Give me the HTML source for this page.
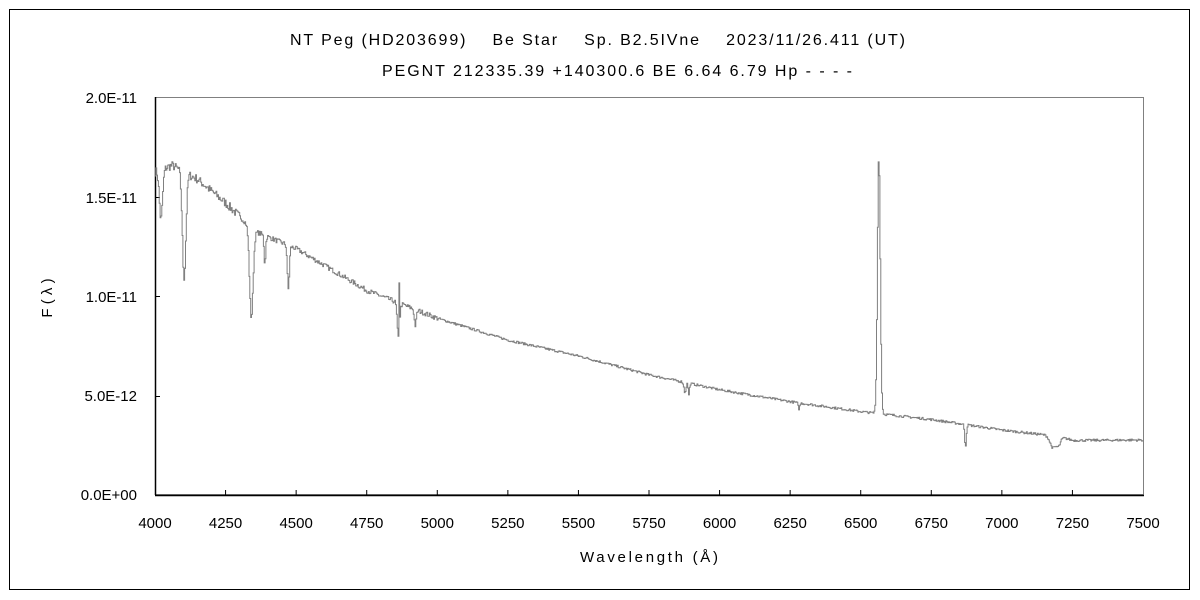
<!DOCTYPE html>
<html><head><meta charset="utf-8"><style>
html,body{margin:0;padding:0;background:#fff;}
svg{display:block;font-family:"Liberation Sans","Noto Sans CJK JP",sans-serif;}
</style></head><body>
<svg id="s" width="1200" height="600" xmlns="http://www.w3.org/2000/svg">
<rect x="0" y="0" width="1200" height="600" fill="#fff"/>
<rect x="9.5" y="9.5" width="1180" height="580" fill="none" stroke="#000" stroke-width="1"/>
<text x="290" y="45" font-size="16" textLength="615" lengthAdjust="spacing" fill="#000" style="white-space:pre">NT Peg (HD203699)    Be Star    Sp. B2.5IVne    2023/11/26.411 (UT)</text>
<text x="382" y="76" font-size="16" textLength="470" lengthAdjust="spacing" fill="#000" style="white-space:pre">PEGNT 212335.39 +140300.6 BE 6.64 6.79 Hp - - - -</text>
<rect x="155.5" y="97.5" width="988" height="397" fill="none" stroke="#808080" stroke-width="1"/>
<line x1="155.5" y1="97" x2="155.5" y2="495" stroke="#000" stroke-width="1.5"/>
<line x1="155" y1="495.5" x2="1144" y2="495.5" stroke="#000" stroke-width="1.5"/>
<g font-size="15" fill="#000" text-anchor="end">
<text x="137" y="103">2.0E-11</text>
<text x="137" y="203">1.5E-11</text>
<text x="137" y="302">1.0E-11</text>
<text x="137" y="401">5.0E-12</text>
<text x="137" y="500">0.0E+00</text>
</g>
<g stroke="#000" stroke-width="1">
<line x1="155" y1="197.5" x2="160" y2="197.5"/>
<line x1="155" y1="296.5" x2="160" y2="296.5"/>
<line x1="155" y1="396.5" x2="160" y2="396.5"/>
</g>
<g id="xt" font-size="15" fill="#000" text-anchor="middle"></g>
<text x="580" y="562" font-size="15" textLength="138" lengthAdjust="spacing">Wavelength (Å)</text>
<text x="52" y="298" font-size="15" text-anchor="middle" transform="rotate(-90 52 298)" style="white-space:pre">F ( λ )</text>
<path id="sp" fill="none" stroke="#808080" stroke-width="1"/>
</svg>
<script>
var X=function(l){return 155+(l-4000)*988/3500;};
var Y=function(f){return 495-f*19.85;};
var xt=document.getElementById('xt'),s='';
for(var l=4000;l<=7500;l+=250){var x=X(l);s+='<text x="'+x+'" y="528">'+l+'</text>';
 if(l>4000&&l<7500)s+='<line x1="'+x+'" y1="490" x2="'+x+'" y2="495" stroke="#000"/>';}
xt.innerHTML=s;
var C=[[4000,16.3],[4060,16.6],[4150,15.9],[4250,14.7],[4350,13.3],[4500,12.4],[4750,10.3],[5000,8.9],[5250,7.8],[5500,7.0],[5750,6.05],[6000,5.3],[6250,4.7],[6500,4.2],[6750,3.8],[7000,3.27],[7200,2.95],[7250,2.75],[7500,2.77]];
function cont(l){for(var i=0;i<C.length-1;i++){if(l<=C[i+1][0]){var t=(l-C[i][0])/(C[i+1][0]-C[i][0]);return C[i][1]+t*(C[i+1][1]-C[i][1]);}}return 2.77;}
var L=[[4020,-2.5,8],[4102,-5.3,9],[4340,-4.5,9],[4388,-1.4,4],[4471,-2.2,5],[4861,-1.8,6],[4921,-0.8,5],[5876,-0.5,5],[5890,-0.6,3],[6280,-0.3,4],[6870,-1.1,4],[7180,-0.6,15],[7200,-0.4,10]];
var seed=7;function rnd(){seed=(seed*16807)%2147483647;return seed/2147483647;}
var d='',step=3,py=null;
for(var l=4000;l<=7500;l+=step){
 var f=cont(l);
 for(var j=0;j<L.length;j++){var q=(l-L[j][0])/L[j][2];f+=L[j][1]*Math.exp(-q*q);}
 var q=(l-6563)/7;f+=13*Math.exp(-q*q);
 q=(l-4864)/1.5;f+=2.5*Math.exp(-q*q);
 var n=(l<4300?0.45:(l<5000?0.25:0.12));
 f+=(rnd()-0.5)*n;
 var x=X(l).toFixed(1),y=Y(f).toFixed(1);
 if(py!==null)d+='L'+x+' '+py;
 d+=(d?'L':'M')+x+' '+y;py=y;
}
document.getElementById('sp').setAttribute('d',d);
</script>
</body></html>
